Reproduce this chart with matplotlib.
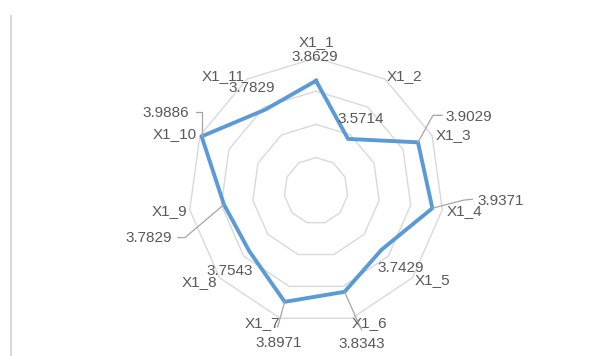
import numpy as np
import matplotlib
matplotlib.use("Agg")
import matplotlib.pyplot as plt
import matplotlib.transforms as mtransforms
from matplotlib.lines import Line2D

# Radar data
categories = ["X1_1", "X1_2", "X1_3", "X1_4", "X1_5", "X1_6",
              "X1_7", "X1_8", "X1_9", "X1_10", "X1_11"]
values = [3.8629, 3.5714, 3.9029, 3.9371, 3.7429, 3.8343,
          3.8971, 3.7543, 3.7829, 3.9886, 3.7829]
ring_levels = [3.4, 3.6, 3.8, 4.0]
r_min, r_max = 3.2, 4.0

# Label placement (pixel offsets, y up)
value_offsets = [(-1, 24), (13, 20), (51, 25), (68, 7), (19, -18), (17, -52),
                 (-6, -41), (-19, -20), (-75, -33), (-36, 23), (-14, 21)]
cat_offsets = [(0, 16), (19, 3), (21, 1), (22, -1), (20, -2), (18, -5),
               (-18, -5), (-20, -4), (-20, -1), (-25, 2), (-24, 3)]
# leader lines: category index -> list of pixel offsets from the point
leaders = {
    2: [(0, 0), (15, 27), (24, 27)],
    3: [(0, 0), (31, 8), (40, 9)],
    5: [(0, 0), (17, -38)],
    6: [(0, 0), (-7, -25)],
    8: [(0, 0), (-39, -33), (-46, -33)],
    9: [(0, 0), (0, 24), (-6, 24)],
}

text_color = "#595959"
grid_color = "#D9D9D9"
line_color = "#5B9BD5"
leader_color = "#A6A6A6"

plt.rcParams["font.family"] = ["Liberation Sans", "DejaVu Sans"]

fig = plt.figure(figsize=(6.09, 3.56), dpi=100)
ax = fig.add_axes([0.3094, 0.0910, 0.4190, 0.7461], projection="polar")
ax.set_aspect("auto")
ax.set_theta_zero_location("N")
ax.set_theta_direction(-1)
ax.set_ylim(r_min, r_max)
ax.grid(False)
ax.set_xticks([])
ax.set_yticks([])
ax.spines["polar"].set_visible(False)
ax.patch.set_alpha(0)

n = len(categories)
theta = np.linspace(0, 2 * np.pi, n, endpoint=False)
theta_closed = np.append(theta, theta[0])

# polygon gridlines
for lvl in ring_levels:
    ax.plot(theta_closed, [lvl] * (n + 1), color=grid_color, lw=1.0,
            clip_on=False, zorder=1)

# data series
vals_closed = values + values[:1]
ax.plot(theta_closed, vals_closed, color=line_color, lw=2.8,
        solid_joinstyle="round", clip_on=False, zorder=3)

# leader lines
for i, pts in leaders.items():
    tr = mtransforms.ScaledTranslation(theta[i], values[i], ax.transData)
    xs = [p[0] for p in pts]
    ys = [p[1] for p in pts]
    fig.add_artist(Line2D(xs, ys, transform=tr, color=leader_color, lw=0.9,
                          zorder=2))

# category and value labels
for i in range(n):
    ax.annotate(categories[i], xy=(theta[i], r_max), xytext=cat_offsets[i],
                textcoords="offset pixels", ha="center", va="center",
                fontsize=11, color=text_color, annotation_clip=False,
                zorder=4)
    ax.annotate(f"{values[i]:.4f}", xy=(theta[i], values[i]),
                xytext=value_offsets[i], textcoords="offset pixels",
                ha="center", va="center", fontsize=11, color=text_color,
                annotation_clip=False, zorder=4)

# thin border on the left
fig.add_artist(Line2D([11 / 609, 11 / 609], [0, 1 - 16 / 356],
                      transform=fig.transFigure, color=grid_color, lw=1.5))

fig.savefig("out.png", dpi=100, facecolor="white")
